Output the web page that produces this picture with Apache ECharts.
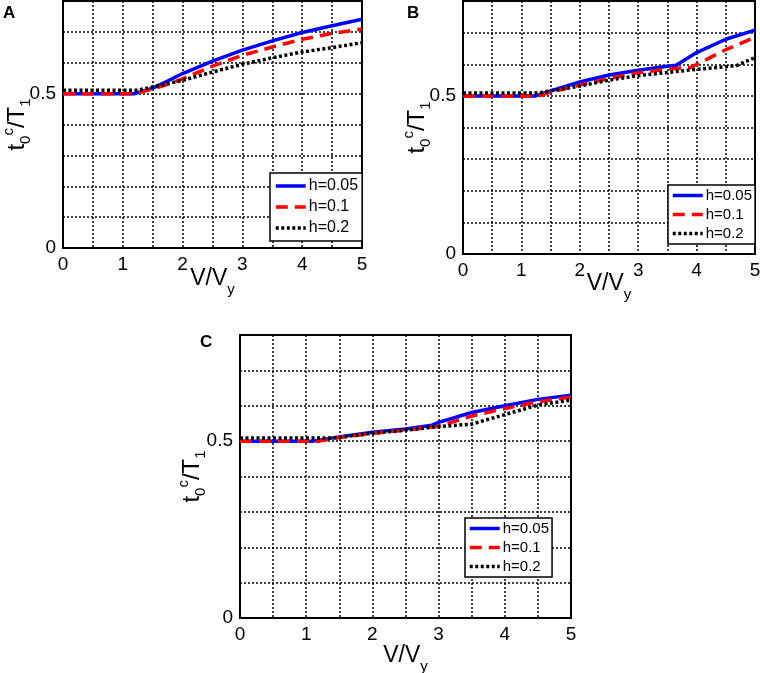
<!DOCTYPE html>
<html>
<head>
<meta charset="utf-8">
<script src="https://cdn.jsdelivr.net/npm/echarts@6/dist/echarts.min.js"></script>
<style>
  html, body { margin: 0; padding: 0; background: #fff; }
  #chart { width: 760px; height: 673px; }
</style>
</head>
<body>
<div id="chart"></div>
<script>
// legend names
const names = ['h=0.05', 'h=0.1', 'h=0.2'];

// panel A
const aBlueX = [0, 1.2, 1.5, 1.75, 2, 2.5, 3, 3.5, 4, 4.5, 5];
const aBlueY = [0.5, 0.5, 0.518, 0.541, 0.565, 0.605, 0.641, 0.671, 0.698, 0.720, 0.741];
const aRedX = [0, 1.2, 1.5, 1.75, 2, 2.5, 3, 3.5, 4, 4.5, 5];
const aRedY = [0.5, 0.5, 0.515, 0.530, 0.548, 0.589, 0.624, 0.651, 0.676, 0.695, 0.709];
const aBlackX = [0, 1.25, 1.5, 2, 2.5, 3, 3.5, 4, 4.5, 5];
const aBlackY = [0.511, 0.511, 0.522, 0.543, 0.570, 0.595, 0.616, 0.635, 0.649, 0.665];

// panel B
const bBlueX = [0, 1.25, 1.5, 2, 2.5, 3, 3.5, 3.65, 4, 4.5, 5];
const bBlueY = [0.5, 0.5, 0.516, 0.544, 0.566, 0.581, 0.594, 0.597, 0.637, 0.679, 0.708];
const bRedX = [0, 1.3, 1.5, 2, 2.5, 3, 3.5, 3.9, 4.5, 5];
const bRedY = [0.5, 0.5, 0.512, 0.534, 0.555, 0.573, 0.585, 0.590, 0.646, 0.685];
const bBlackX = [0, 1.3, 1.5, 2, 2.5, 3, 3.5, 4, 4.5, 4.7, 5];
const bBlackY = [0.509, 0.509, 0.516, 0.531, 0.550, 0.564, 0.574, 0.584, 0.592, 0.597, 0.621];

// panel C
const cBlueX = [0, 1.1, 1.5, 2, 2.5, 2.9, 3, 3.5, 4, 4.5, 5];
const cBlueY = [0.5, 0.5, 0.512, 0.525, 0.534, 0.545, 0.553, 0.581, 0.600, 0.618, 0.630];
const cRedX = [0, 1.2, 1.5, 2, 2.5, 3, 3.5, 4, 4.5, 5];
const cRedY = [0.5, 0.5, 0.510, 0.522, 0.531, 0.542, 0.571, 0.592, 0.611, 0.625];
const cBlackX = [0, 1.4, 2, 2.5, 3, 3.5, 4, 4.5, 5];
const cBlackY = [0.509, 0.509, 0.522, 0.531, 0.541, 0.548, 0.575, 0.602, 0.616];

const xTicks = [0, 1, 2, 3, 4, 5];
const yTicks = [0, 0.5];

const pairs = (xs, ys) => xs.map((x, i) => [x, ys[i]]);

const chart = echarts.init(document.getElementById('chart'));

const font = 'Liberation Sans';
const gridStyle = {
  show: true, borderColor: '#000', borderWidth: 2, backgroundColor: '#fff',
  containLabel: false, outerBoundsMode: 'none'
};

const grids = [
  { left: 63, top: 1, width: 299, height: 247, ...gridStyle },
  { left: 463, top: 1, width: 292, height: 253, ...gridStyle },
  { left: 240, top: 335, width: 331, height: 283, ...gridStyle },
];
const xNameGaps = [19, 18, 26];
const yNameGaps = [30, 30, 32];

const split = { show: true, lineStyle: { color: '#000', width: 1.5, type: [2, 2] } };

const xAxes = grids.map((g, i) => ({
  type: 'value',
  gridIndex: i,
  min: 0, max: 5, interval: 0.5,
  axisLine: { show: false },
  axisTick: { show: false },
  splitLine: split,
  axisLabel: {
    color: '#000', fontSize: 19, fontFamily: font, margin: 7,
    formatter: v => (xTicks.indexOf(v) >= 0 ? String(v) : '')
  },
  name: '{n|V/V}{s|y}',
  nameLocation: 'middle',
  nameMoveOverlap: false,
  nameGap: xNameGaps[i],
  nameTextStyle: {
    rich: {
      n: { fontSize: 23, fontFamily: font, color: '#000', lineHeight: 30, verticalAlign: 'top' },
      s: { fontSize: 15, fontFamily: font, color: '#000', lineHeight: 14, verticalAlign: 'bottom' }
    }
  }
}));

const yAxes = grids.map((g, i) => ({
  type: 'value',
  gridIndex: i,
  min: 0, max: 0.8, interval: 0.1,
  axisLine: { show: false },
  axisTick: { show: false },
  splitLine: split,
  axisLabel: {
    color: '#000', fontSize: 19, fontFamily: font, margin: 7,
    formatter: v => (yTicks.some(t => Math.abs(t - v) < 1e-6) ? String(Math.round(v * 10) / 10) : '')
  },
  name: '{n|t}{s|0}{p|c}{n|/T}{s|1}',
  nameLocation: 'middle',
  nameMoveOverlap: false,
  nameRotate: 90,
  nameGap: yNameGaps[i],
  nameTextStyle: {
    rich: {
      n: { fontSize: 24, fontFamily: font, color: '#000', lineHeight: 32 },
      s: { fontSize: 15, fontFamily: font, color: '#000', lineHeight: 14, verticalAlign: 'bottom' },
      p: { fontSize: 15, fontFamily: font, color: '#000', lineHeight: 14, verticalAlign: 'top' }
    }
  }
}));

const styles = [
  { color: '#0000ff', width: 3.5, type: 'solid' },
  { color: '#ff0000', width: 3.5, type: [12, 7] },
  { color: '#000000', width: 3.5, type: [3, 2.5] },
];

const panelData = [
  [pairs(aBlueX, aBlueY), pairs(aRedX, aRedY), pairs(aBlackX, aBlackY)],
  [pairs(bBlueX, bBlueY), pairs(bRedX, bRedY), pairs(bBlackX, bBlackY)],
  [pairs(cBlueX, cBlueY), pairs(cRedX, cRedY), pairs(cBlackX, cBlackY)],
];

const series = [];
panelData.forEach((sets, gi) => {
  sets.forEach((d, si) => {
    series.push({
      name: names[si],
      type: 'line',
      xAxisIndex: gi,
      yAxisIndex: gi,
      data: d,
      symbol: 'none',
      smooth: false,
      animation: false,
      lineStyle: styles[si],
      itemStyle: { color: styles[si].color },
      z: 3 + si
    });
  });
});

const legendBase = {
  data: names,
  orient: 'vertical',
  backgroundColor: '#fff',
  borderColor: '#000',
  borderWidth: 1.5,
  borderRadius: 0,
  itemWidth: 30,
  itemHeight: 14,
  selectedMode: false,
  itemStyle: { color: 'rgba(0,0,0,0)', borderColor: 'rgba(0,0,0,0)', borderWidth: 0 },
  lineStyle: { width: 3.5 },
  z: 10
};

const legends = [
  { ...legendBase, left: 270, top: 173, padding: [5, 4, 5, 4], itemGap: 5, textStyle: { fontSize: 16, fontFamily: font, color: '#000', padding: [0, 0, 0, -2] } },
  { ...legendBase, left: 668, top: 185, padding: [3, 3, 3, 3], itemGap: 4, textStyle: { fontSize: 15, fontFamily: font, color: '#000', padding: [0, 0, 0, -2] } },
  { ...legendBase, left: 465, top: 518, padding: [3, 3, 3, 3], itemGap: 4, textStyle: { fontSize: 15, fontFamily: font, color: '#000', padding: [0, 0, 0, -2] } },
];

const panelLabel = (t, x, y) => ({
  type: 'text', left: x, top: y,
  style: { text: t, font: 'bold 17px "Liberation Sans"', fill: '#000' }
});

chart.setOption({
  animation: false,
  grid: grids,
  xAxis: xAxes,
  yAxis: yAxes,
  legend: legends,
  series: series,
  graphic: [panelLabel('A', 3, 5), panelLabel('B', 407, 5), panelLabel('C', 200, 334)]
});
</script>
</body>
</html>
